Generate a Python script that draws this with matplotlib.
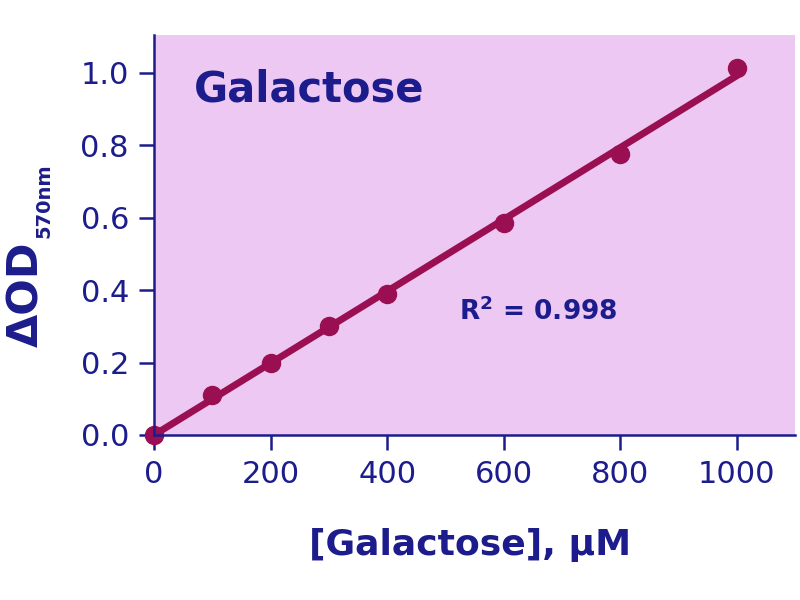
import numpy as np
import matplotlib
matplotlib.use('Agg')
import matplotlib.pyplot as plt

# values
conc_uM = [0, 100, 200, 300, 400, 600, 800, 1000]
delta_od = [0.0, 0.11, 0.20, 0.30, 0.39, 0.585, 0.775, 1.015]
x_ticks = [0, 200, 400, 600, 800, 1000]
y_ticks = [0.0, 0.2, 0.4, 0.6, 0.8, 1.0]
r_squared = 0.998

navy = '#1c1c8c'
maroon = '#9a0f52'
pink = '#edc8f3'


def main():
    plt.rcParams['mathtext.fontset'] = 'dejavusans'
    fig = plt.figure(figsize=(8, 6), dpi=100)
    ax = fig.add_axes([0.1925, 0.275, 0.8015, 0.6667])
    ax.set_facecolor(pink)

    # linear fit through the standards
    slope, intercept = np.polyfit(conc_uM, delta_od, 1)
    fit_x = np.array([conc_uM[0], conc_uM[-1]])
    ax.plot(fit_x, slope * fit_x + intercept, color=maroon, lw=5,
            solid_capstyle='round', zorder=3)
    ax.plot(conc_uM, delta_od, 'o', color=maroon, ms=13, zorder=4,
            clip_on=False)

    ax.set_xlim(0, 1100)
    ax.set_ylim(0, 1.105)
    ax.set_xticks(x_ticks)
    ax.set_yticks(y_ticks)
    ax.set_yticklabels([f'{v:.1f}' for v in y_ticks])

    for side in ['top', 'right']:
        ax.spines[side].set_visible(False)
    for side in ['left', 'bottom']:
        ax.spines[side].set_color(navy)
        ax.spines[side].set_linewidth(1.8)
        ax.spines[side].set_zorder(5)
    ax.tick_params(colors=navy, labelsize=22, length=11, width=1.8, pad=7)

    ax.set_xlabel('[Galactose], \u03bcM', fontsize=26, fontweight='bold',
                  color=navy, va='center')
    ax.xaxis.set_label_coords(0.493, -0.275)

    # y label: "ΔOD" with a smaller "570nm" subscript
    fig.text(0.033, 0.4217, '\u0394OD', rotation=90, fontsize=31,
             fontweight='bold', color=navy, ha='center', va='bottom')
    fig.text(0.055, 0.6033, '570nm', rotation=90, fontsize=14,
             fontweight='bold', color=navy, ha='center', va='bottom')

    ax.text(0.242, 0.8625, 'Galactose', transform=ax.transAxes, fontsize=30,
            fontweight='bold', color=navy, ha='center', va='center')
    ax.text(0.599, 0.3075, 'R$^{\\mathbf{2}}$ = %.3f' % r_squared,
            transform=ax.transAxes, fontsize=19, fontweight='bold',
            color=navy, ha='center', va='center')

    fig.savefig('out.png', dpi=100)


if __name__ == "__main__":
    main()
